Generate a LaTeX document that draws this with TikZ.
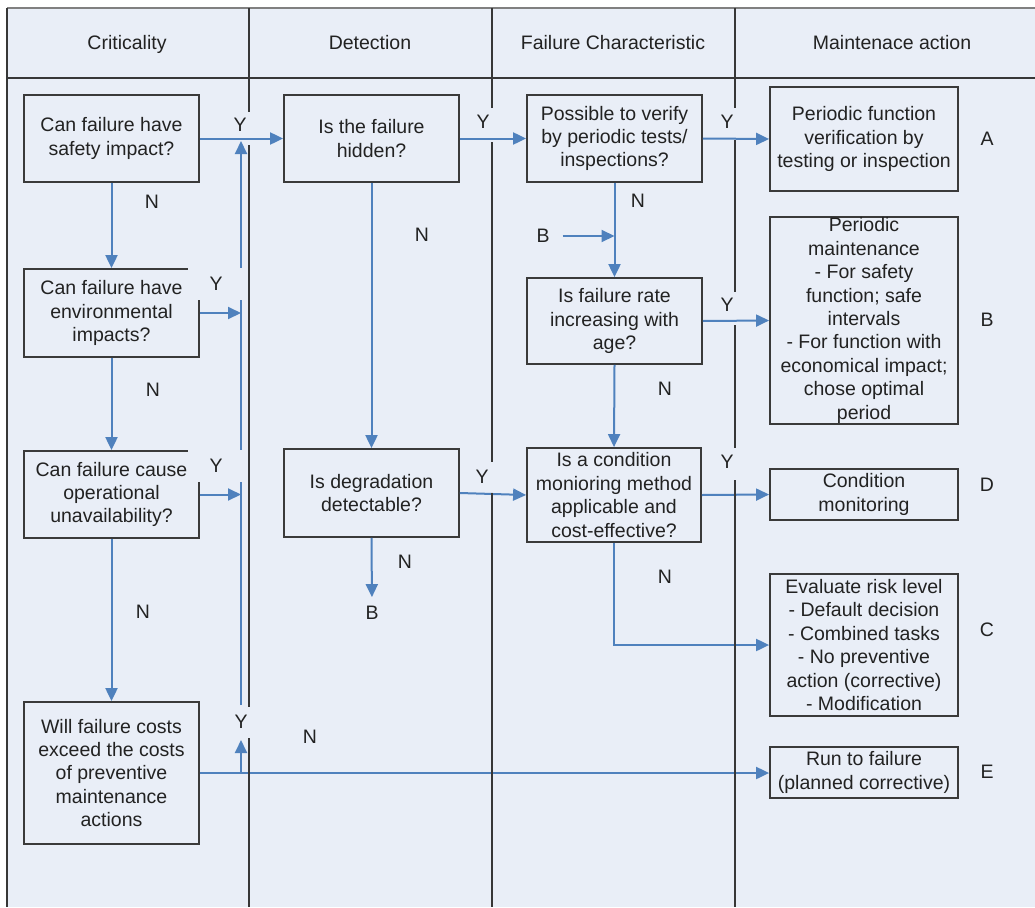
\documentclass[tikz,border=0pt]{standalone}
\usepackage{fontspec}
\setmainfont{Liberation Sans}
\usetikzlibrary{arrows.meta}

\definecolor{bg}{RGB}{233,238,247}
\definecolor{boxline}{RGB}{58,58,58}
\definecolor{flowblue}{RGB}{79,129,189}
\definecolor{laneline}{RGB}{55,55,55}
\definecolor{topline}{RGB}{128,128,128}
\definecolor{txt}{RGB}{34,34,34}

\newcommand\dfont{\fontsize{19.5}{23.4}\selectfont}

\tikzset{
  qbox/.style={draw=boxline, line width=1.8pt, fill=bg, align=center,
               inner sep=0pt, font=\dfont, text=txt},
  flow/.style={draw=flowblue, line width=2pt,
               -{Triangle[length=13pt,width=12pt]}},
  lbl/.style={font=\dfont, text=txt, inner sep=0pt},
  masklbl/.style={lbl, fill=bg},
  hdr/.style={lbl, anchor=base},
  lane/.style={draw=laneline, line width=2.5pt},
}

\begin{document}
\begin{tikzpicture}[x=1pt,y=-1pt]
\useasboundingbox (0,0) rectangle (1035,907);
\fill[white] (0,0) rectangle (1035,907);
\fill[bg] (7,8) rectangle (1035,907);

% lane headers
\node[hdr] (hCrit) at (127,50) {Criticality};
\node[hdr] (hDet)  at (370,50) {Detection};
\node[hdr] (hFail) at (613,50) {Failure Characteristic};
\node[hdr] (hMain) at (892,50) {Maintenace action};

% decision boxes
\node[qbox, minimum width=175pt, minimum height=87pt]  (crit1) at (111.5,138.5) {Can failure have\\safety impact?};
\node[qbox, minimum width=175pt, minimum height=88pt]  (crit2) at (111.5,313)   {Can failure have\\environmental\\impacts?};
\node[qbox, minimum width=175pt, minimum height=87pt]  (crit3) at (111.5,494.5) {Can failure cause\\operational\\unavailability?};
\node[qbox, minimum width=175pt, minimum height=142pt] (crit4) at (111.5,773)   {Will failure costs\\exceed the costs\\of preventive\\maintenance\\actions};

\node[qbox, minimum width=175pt, minimum height=87pt] (hidden) at (371.5,138.5) {Is the failure\\hidden?};
\node[qbox, minimum width=175pt, minimum height=88pt] (degr)   at (371.5,493)   {Is degradation\\detectable?};

\node[qbox, minimum width=175pt, minimum height=87pt] (verify) at (614.5,138.5) {Possible to verify\\by periodic tests/\\inspections?};
\node[qbox, minimum width=175pt, minimum height=86pt] (rate)   at (614.5,321)   {Is failure rate\\increasing with\\age?};
\node[qbox, minimum width=174pt, minimum height=94pt] (cond)   at (614,495)     {Is a condition\\monioring method\\applicable and\\cost-effective?};

% maintenance actions
\node[qbox, minimum width=188pt, minimum height=104pt] (actA) at (864,139)   {Periodic function\\verification by\\testing or inspection};
\node[qbox, minimum width=188pt, minimum height=207pt] (actB) at (864,320.5) {Periodic\\maintenance\\- For safety\\function; safe\\intervals\\- For function with\\economical impact;\\chose optimal\\period};
\node[qbox, minimum width=188pt, minimum height=51pt]  (actD) at (864,494.5) {Condition\\monitoring};
\node[qbox, minimum width=188pt, minimum height=142pt] (actC) at (864,645)   {Evaluate risk level\\- Default decision\\- Combined tasks\\- No preventive\\action (corrective)\\- Modification};
\node[qbox, minimum width=188pt, minimum height=51pt]  (actE) at (864,772.5) {Run to failure\\(planned corrective)};

\node[lbl] (codeA) at (987,139) {A};
\node[lbl] (codeB) at (987,320) {B};
\node[lbl] (codeD) at (987,485) {D};
\node[lbl] (codeC) at (987,630) {C};
\node[lbl] (codeE) at (987,772) {E};

% off-page references
\node[lbl] (refBin)  at (543,236) {B};
\node[lbl] (refBout) at (372,613) {B};

% bus collecting the criticality "yes" answers
\coordinate (busTop)  at (241,141);
\coordinate (busMidA) at (241,705);
\coordinate (busMidB) at (241,740);
\coordinate (busFoot) at (241,773);

% connectors
\draw[flow] (crit1.east) -- (hidden.west);
\draw[flow] (crit1.south) -- (crit2.north);
\draw[flow] (crit2.south) -- (crit3.north);
\draw[flow] (crit3.south) -- (crit4.north);
\draw[flow] (crit2.east) -- (crit2.east -| busTop);
\draw[flow] (crit3.east) -- (crit3.east -| busTop);
\draw[flow] (crit4.east) -- (crit4.east -| actE.west);
\draw[flow] (busFoot) -- (busMidB);
\draw[flow] (busMidA) -- (busTop);

\draw[flow] (hidden.east) -- (verify.west);
\draw[flow] (hidden.south) -- (degr.north);
\draw[flow] (degr.east) -- (cond.west);
\draw[flow, shorten >=9pt] (degr.south) -- (refBout.north);

\draw[flow] (verify.south) -- (rate.north);
\draw[flow, shorten <=13pt] (refBin.east) -- (refBin.east -| rate.north);
\draw[flow] (rate.south) -- (cond.north);

\draw[flow] (verify.east) -- (actA.west);
\draw[flow] (rate.east) -- (actB.west);
\draw[flow] (cond.east) -- (actD.west);
\draw[flow] (cond.south) |- (actC.west);

% answer labels
\node[lbl] (y1) at (240,125) {Y};
\node[masklbl, minimum width=56pt, minimum height=32pt] (y2) at (216,284) {Y};
\node[masklbl, minimum width=56pt, minimum height=32pt] (y3) at (216,466) {Y};
\node[lbl] (y4) at (241,722) {Y};
\node[lbl] (y5) at (483,122) {Y};
\node[lbl] (y6) at (482,477) {Y};
\node[lbl] (y7) at (727,122) {Y};
\node[lbl] (y8) at (727,305) {Y};
\node[lbl] (y9) at (727,462) {Y};

\node[lbl] (n1) at (152,202) {N};
\node[lbl] (n2) at (153,390) {N};
\node[lbl] (n3) at (143,612) {N};
\node[lbl] (n4) at (422,235) {N};
\node[lbl] (n5) at (405,562) {N};
\node[lbl] (n6) at (638,201) {N};
\node[lbl] (n7) at (665,389) {N};
\node[lbl] (n8) at (665,577) {N};
\node[lbl] (n9) at (310,737) {N};

% frame and swimlane separators
\draw[draw=topline, line width=2.6pt] (7,8) -- (1035,8);
\draw[lane] (7,8) -- (7,907);
\draw[lane] (7,78) -- (1035,78);
\draw[lane] (249,8) -- (249,112);
\draw[lane] (249,145) -- (249,707);
\draw[lane] (249,738) -- (249,907);
\draw[lane] (492,8) -- (492,108);
\draw[lane] (492,142) -- (492,462);
\draw[lane] (492,493) -- (492,907);
\draw[lane] (735,8) -- (735,108);
\draw[lane] (735,140) -- (735,292);
\draw[lane] (735,325) -- (735,448);
\draw[lane] (735,480) -- (735,907);
\end{tikzpicture}
\end{document}
